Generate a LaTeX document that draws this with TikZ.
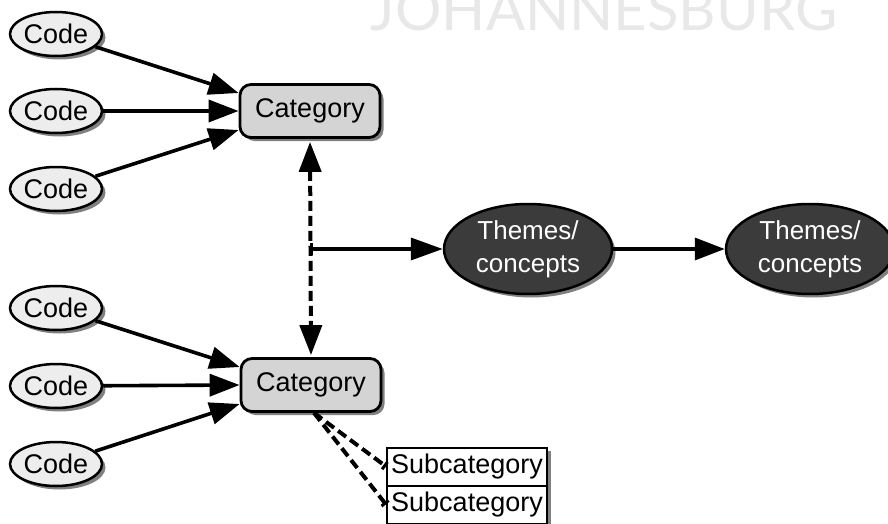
\documentclass[tikz,border=0pt]{standalone}
\usepackage{fontspec}
\setmainfont{Liberation Sans}
\newfontfamily\markfont{Lato}
\usetikzlibrary{arrows.meta,shapes.geometric,shadows}
\begin{document}
\begin{tikzpicture}[x=1pt,y=-1pt,
  shade/.style={drop shadow={shadow xshift=3.5pt,shadow yshift=-3.5pt,fill=black!50,opacity=1}},
  lbl/.style={font=\fontsize{27}{32}\selectfont},
  code/.style={ellipse,draw=black,line width=2.5pt,fill=black!7,minimum width=92pt,minimum height=44pt,inner sep=0pt,lbl,shade},
  category/.style={rectangle,rounded corners=11pt,draw=black,line width=2.8pt,fill=black!17,minimum width=140pt,minimum height=53pt,inner sep=0pt,lbl,shade},
  theme/.style={ellipse,draw=black,line width=2.5pt,fill=black!77,text=white,minimum width=168pt,minimum height=90pt,inner sep=0pt,align=center,font=\fontsize{26}{33}\selectfont,shade},
  subcat/.style={rectangle,draw=black,line width=2pt,fill=white,minimum width=160pt,minimum height=38pt,inner sep=0pt,lbl,shade},
  link/.style={line width=3.6pt,-{Triangle[length=30pt,width=22pt]}},
  dlink/.style={line width=4pt,dash pattern=on 10pt off 5pt},
]
\useasboundingbox (0,0) rectangle (888,524);

% watermark
\node[anchor=base,text=black!9,font=\markfont\fontsize{58}{58}\selectfont] (mark) at (604,31) {JOHANNESBURG};

% upper group
\node[code] (c1) at (56,34) {Code};
\node[code] (c2) at (56,111) {Code};
\node[code] (c3) at (56,189) {Code};
\node[category] (cat1) at (310,111) {Category};

% lower group
\node[code] (c4) at (56,308) {Code};
\node[code] (c5) at (56,386) {Code};
\node[code] (c6) at (56,464) {Code};
\node[category] (cat2) at (311,385) {Category};

% themes
\node[theme] (t1) at (528,249) {Themes/\\concepts};
\node[theme] (t2) at (810,249) {Themes/\\concepts};

% subcategories
\node[subcat] (s1) at (467,466.5) {Subcategory};
\node[subcat] (s2) at (467,504.5) {Subcategory};

% codes feeding categories
\draw[link] (c1) -- ([yshift=18pt]cat1.west);
\draw[link] (c2) -- (cat1.west);
\draw[link] (c3) -- ([yshift=-19pt]cat1.west);
\draw[link] (c4) -- ([yshift=18pt]cat2.west);
\draw[link] (c5) -- (cat2.west);
\draw[link] (c6) -- ([yshift=-19pt]cat2.west);

% relation between the categories
\draw[dlink,{Triangle[length=30pt,width=22pt]}-{Triangle[length=30pt,width=22pt]},shorten <=3pt,shorten >=2pt] (cat1.south) -- (cat2.north);

% from the relation to themes
\coordinate (junc) at (cat1.south |- t1.west);
\draw[line width=3.6pt,{Bar[width=12pt,line width=3pt]}-{Triangle[length=32pt,width=22pt]}] (junc) -- (t1.west);
\draw[link] (t1) -- (t2);

% subcategory links
\draw[dlink,-{Bar[width=9pt,line width=3pt]}] ([xshift=3pt]cat2.south) -- (s1.west);
\draw[dlink,-{Bar[width=9pt,line width=3pt]}] ([xshift=3pt]cat2.south) -- (s2.west);
\end{tikzpicture}
\end{document}
